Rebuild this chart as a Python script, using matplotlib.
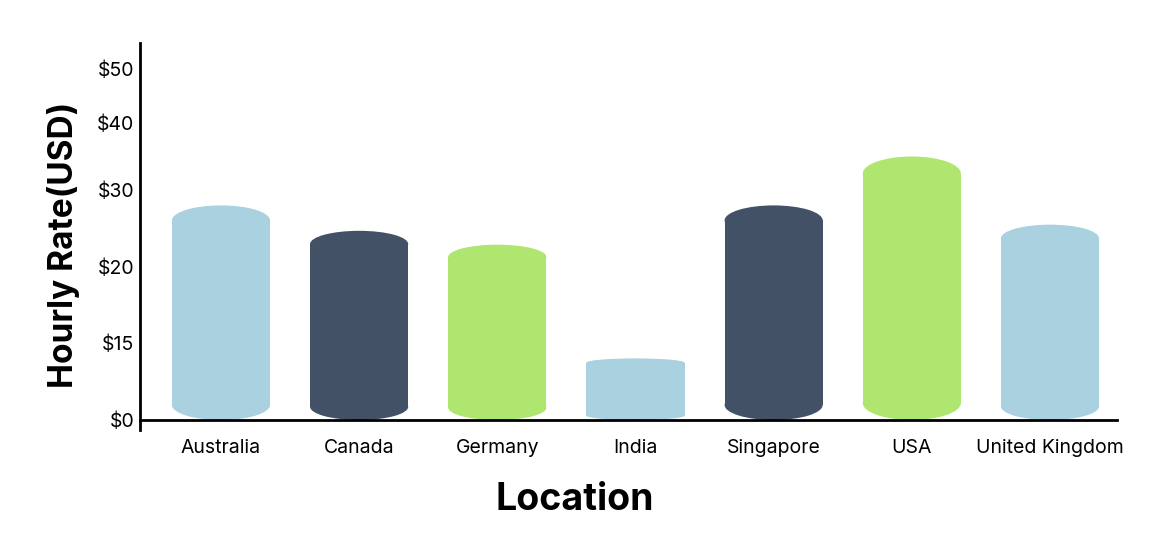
import numpy as np
import matplotlib.pyplot as plt
from matplotlib.patches import Ellipse, Rectangle

locations = ["Australia", "Canada", "Germany", "India", "Singapore", "USA", "United Kingdom"]
hourly_rate = [28, 24.7, 22.9, 12, 28, 35, 25.5]

tick_values = [0, 15, 20, 30, 40, 50]
tick_labels = ["\\$0", "\\$15", "\\$20", "\\$30", "\\$40", "\\$50"]

# the y axis of the original is not linear, knots of a piecewise scale
SCALE_VALS = [-15, 0, 15, 20, 30, 40, 50, 60]
SCALE_POS = [-77, 0, 77, 153, 230, 297, 351, 405]

BLUE = "#aad1df"
DARK = "#425166"
GREEN = "#aee670"
colors = [BLUE, DARK, GREEN, BLUE, DARK, GREEN, BLUE]

FONT = ["Inter", "DejaVu Sans"]
plt.rcParams['font.family'] = FONT


def forward(v):
    return np.interp(v, SCALE_VALS, SCALE_POS)


def inverse(p):
    return np.interp(p, SCALE_POS, SCALE_VALS)


fig = plt.figure(figsize=(11.7, 5.4), dpi=100)
ax = fig.add_axes([140 / 1170, 1 - 430 / 540, 977 / 1170, 387 / 540])
ax.set_yscale('function', functions=(forward, inverse))
ax.set_ylim(inverse(-10), inverse(377))
ax.set_xlim(-0.586, 6.485)

# draw in the scaled space so the cylinder caps stay true ellipses
tr = ax.transLimits + ax.transAxes
ytr = ax.yaxis.get_transform()
width = 0.71
for i, (loc, val) in enumerate(zip(locations, hourly_rate)):
    top = ytr.transform(np.array([val]))[0]
    base = ytr.transform(np.array([0.0]))[0]
    e = min(0.07 * (top - base), 17)
    c = colors[i]
    ax.add_patch(Rectangle((i - width / 2, base + e), width, top - base - 2 * e,
                           facecolor=c, edgecolor='none', transform=tr))
    ax.add_patch(Ellipse((i, top - e), width, 2 * e, facecolor=c, edgecolor='none', transform=tr))
    ax.add_patch(Ellipse((i, base + e), width, 2 * e, facecolor=c, edgecolor='none', transform=tr))

ax.set_xticks(range(len(locations)))
ax.set_xticklabels(locations)
ax.set_yticks(tick_values)
ax.set_yticklabels(tick_labels)
ax.tick_params(axis='both', length=0, labelsize=14)
ax.tick_params(axis='x', pad=14)
ax.tick_params(axis='y', pad=4)

for s in ['top', 'right']:
    ax.spines[s].set_visible(False)
ax.spines['bottom'].set_position(('data', 0))
ax.spines['bottom'].set_linewidth(2)
ax.spines['left'].set_linewidth(2)

ax.set_xlabel("Location", fontsize=27, fontweight='bold')
ax.xaxis.set_label_coords((575 - 140) / 977, -(482 - 430) / 387)
ax.set_ylabel("Hourly Rate(USD)", fontsize=24, fontweight='bold')
ax.yaxis.set_label_coords(-(140 - 80) / 977, (430 - 245) / 387)

fig.savefig("out.png", dpi=100, facecolor='white')
